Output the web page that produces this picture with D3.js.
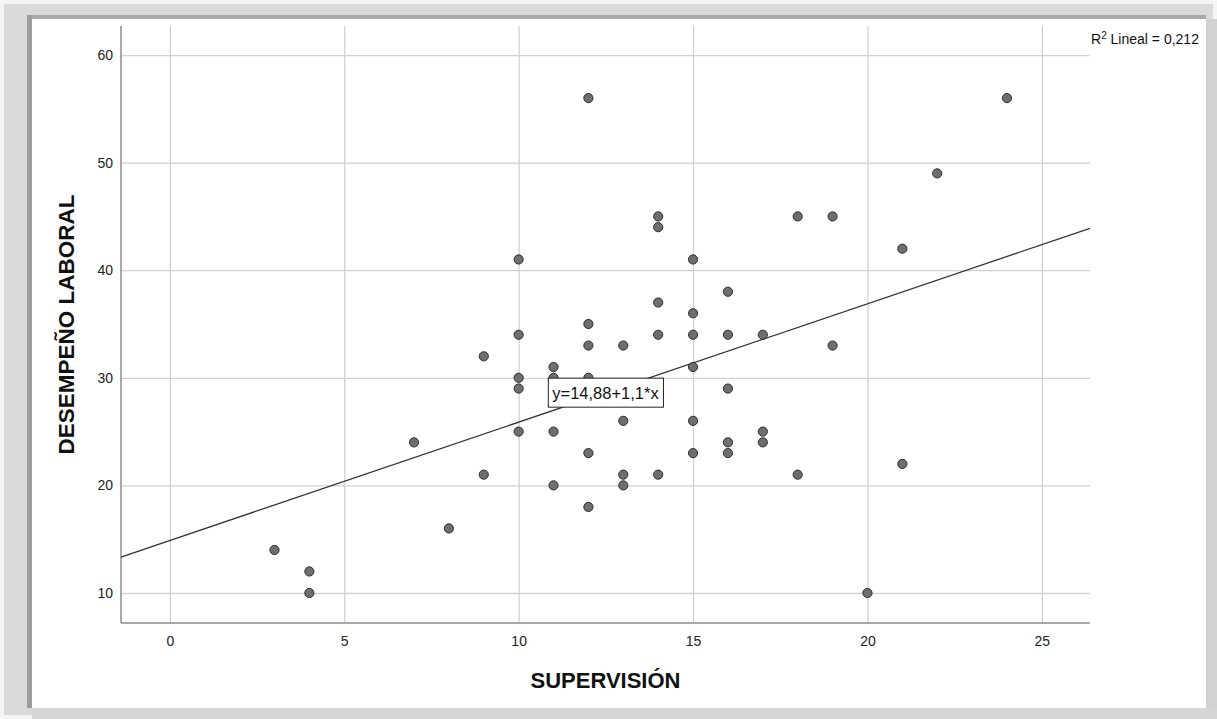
<!DOCTYPE html>
<html>
<head>
<meta charset="utf-8">
<script src="https://cdnjs.cloudflare.com/ajax/libs/d3/7.8.5/d3.min.js"></script>
<style>
  body { margin: 0; background: #f4f4f4; }
  svg { display: block; font-family: "Liberation Sans", Arial, sans-serif; }
</style>
</head>
<body>
<div id="chart"></div>
<script>
// data
var supervision = [3,4,4,7,8,9,9,10,10,10,10,10,11,11,11,11,12,12,12,12,12,12,13,13,13,13,
                   14,14,14,14,14,15,15,15,15,15,15,16,16,16,16,16,17,17,17,18,18,19,19,20,21,21,22,24];
var desempeno   = [14,12,10,24,16,32,21,41,34,30,29,25,31,30,25,20,56,35,33,30,23,18,33,26,21,20,
                   45,44,37,34,21,41,36,34,31,26,23,38,34,29,24,23,34,25,24,45,21,45,33,10,42,22,49,56];
var xTicks = [0,5,10,15,20,25];
var yTicks = [10,20,30,40,50,60];
var intercept = 14.88, slope = 1.1;
var eqText = "y=14,88+1,1*x";
var r2Text = "0,212";

function init(){
    var W = 1217, H = 719;
    var left = 121, right = 1090, top = 26, bottom = 623;

    var svg = d3.select("#chart").append("svg")
        .attr("width", W).attr("height", H);

    // picture frame / shadow
    svg.append("rect").attr("x",4).attr("y",4).attr("width",W-8).attr("height",H-8).attr("fill","#dadada");
    svg.append("rect").attr("x",27).attr("y",15).attr("width",1179).attr("height",4).attr("fill","#a9a9a9");
    svg.append("rect").attr("x",27).attr("y",15).attr("width",5).attr("height",693).attr("fill","#9c9c9c");
    svg.append("rect").attr("x",1206).attr("y",19).attr("width",11).attr("height",700).attr("fill","#d2d2d2");
    svg.append("rect").attr("x",32).attr("y",708).attr("width",1185).attr("height",11).attr("fill","#d6d6d6");
    svg.append("rect").attr("x",32).attr("y",19).attr("width",1174).attr("height",689).attr("fill","#fff");

    var x = d3.scaleLinear().domain([-1.4, 26.38]).range([left, right]);
    var y = d3.scaleLinear().domain([7.21, 62.7]).range([bottom, top]);

    // y grid + labels
    var gy = svg.append("g").attr("transform","translate(" + left + ",0)")
        .call(d3.axisLeft(y).tickValues(yTicks).tickSizeInner(-(right-left)).tickSizeOuter(0).tickPadding(8));
    // x grid + labels
    var gx = svg.append("g").attr("transform","translate(0," + bottom + ")")
        .call(d3.axisBottom(x).tickValues(xTicks).tickSizeInner(-(bottom-top)).tickSizeOuter(0).tickPadding(13));

    [gx, gy].forEach(function(g){
        g.select(".domain").remove();
        g.selectAll(".tick line").attr("stroke","#d2d2d2").attr("stroke-width",1.3);
        g.selectAll(".tick text").attr("fill","#222").style("font-size","14px")
            .style("font-family","'Liberation Sans', Arial, sans-serif");
    });

    // axis lines
    svg.append("line").attr("x1",left).attr("x2",left).attr("y1",top).attr("y2",bottom)
        .attr("stroke","#8c8c8c").attr("stroke-width",1.5);
    svg.append("line").attr("x1",left).attr("x2",right).attr("y1",bottom).attr("y2",bottom)
        .attr("stroke","#8c8c8c").attr("stroke-width",1.5);

    // fit line
    var x0 = x.domain()[0], x1 = x.domain()[1];
    svg.append("line")
        .attr("x1", x(x0)).attr("y1", y(intercept + slope*x0))
        .attr("x2", x(x1)).attr("y2", y(intercept + slope*x1))
        .attr("stroke","#333").attr("stroke-width",1.3);

    // points
    svg.selectAll("circle.pt")
        .data(supervision.map(function(d,i){ return [d, desempeno[i]]; }))
        .enter().append("circle").attr("class","pt")
        .attr("cx", function(d){ return x(d[0]); })
        .attr("cy", function(d){ return y(d[1]); })
        .attr("r", 4.6)
        .attr("fill","#6e6e6e")
        .attr("stroke","#2e2e2e")
        .attr("stroke-width",1);

    // equation label at the midpoint of the line
    var xm = (x0 + x1)/2;
    var lab = svg.append("g").attr("transform","translate(" + x(xm) + "," + y(intercept + slope*xm) + ")");
    var box = lab.append("rect");
    var t = lab.append("text").attr("text-anchor","middle").attr("dy","0.36em")
        .style("font-size","16.5px").attr("fill","#111").text(eqText);
    var bb = t.node().getBBox();
    box.attr("x", bb.x - 4).attr("y", -14.5).attr("width", bb.width + 8).attr("height", 29)
        .attr("fill","#fff").attr("stroke","#222").attr("stroke-width",1);

    // R2 text
    var r2 = svg.append("text").attr("x",1091).attr("y",44).style("font-size","14px").attr("fill","#111");
    r2.append("tspan").text("R");
    r2.append("tspan").attr("dy",-5).style("font-size","10px").text("2");
    r2.append("tspan").attr("dy",5).text(" Lineal = " + r2Text);

    // axis titles
    svg.append("text").attr("x",(left+right)/2).attr("y",688).attr("text-anchor","middle")
        .style("font-size","22px").style("font-weight","bold").attr("fill","#111").text("SUPERVISIÓN");
    svg.append("text").attr("transform","translate(74," + (top+bottom)/2 + ") rotate(-90)")
        .attr("text-anchor","middle").style("font-size","22.5px").style("font-weight","bold").attr("fill","#111")
        .text("DESEMPEÑO LABORAL");
}
window.onload = init;
</script>
</body>
</html>
